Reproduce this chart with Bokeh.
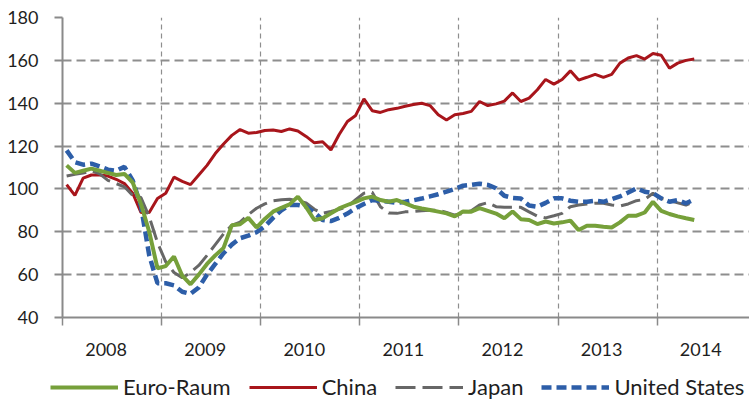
from bokeh.plotting import figure
from bokeh.models import Range1d, FixedTicker, Legend, LegendItem, CustomJSTickFormatter
from bokeh.embed import file_html
from bokeh.resources import INLINE

# Monthly index values, Jan 2008 .. May 2014 (77 months)
months = list(range(77))

euro = [111, 107.5, 108.5, 109.5, 108.5, 107.5, 106.5, 107, 103, 93, 80, 63, 64, 68.5, 59.5, 55.5,
        60, 65, 69, 72.5, 83, 83.5, 86.5, 82, 86,
        89.4, 91.2, 92.8, 96.4, 91.5, 85.5, 86.3, 88.6, 90.9, 92.5, 94, 95.6, 96.4, 94.8, 94, 94.8,
        93.3, 91.7, 90.9, 90.2, 89.4, 88.6, 87.2, 89.5, 89.4,
        91, 89.8, 88.5, 86.3, 89.5, 85.9, 85.5, 83.6, 84.8, 83.9, 84.4, 85.2, 80.8, 82.8, 82.8,
        82.3, 82, 84.4, 87.5, 87.5, 89, 94, 89.8, 88.3, 87.2, 86.3, 85.5]

china = [102, 97, 105, 106.5, 106.5, 106, 104.5, 102.5, 98, 89, 89, 95.5, 98, 105.5, 103.5, 102, 106.5,
         111, 116.5, 121, 125, 127.7, 126, 126.3, 127.3, 127.5, 126.8, 128, 127, 124.5, 121.5, 122,
         118.2, 125.4, 131.5, 134.3,
         142, 136.5, 135.7, 137, 137.6, 138.6, 139.4, 140, 138.9, 134.6, 132.2, 134.6, 135.2, 136.2,
         140.8, 138.9, 139.7, 141, 144.8, 140.8, 142.4, 146.3, 151.1, 148.9, 151.1, 155.1, 150.8,
         152.1, 153.5, 152.1, 153.5, 158.7, 161.1, 162.2, 160.6, 163.2, 162.4, 156.3, 158.7, 160, 160.6]

japan = [106, 106.8, 107.4, 108.5, 107, 104, 102.5, 101, 97, 96, 87, 75, 66, 61, 58.5, 61, 64.3, 69,
         74, 79, 83,
         84.5, 88, 91, 93, 94.5, 95, 95.2, 94.5, 93.5, 90.5, 88.6, 89.5, 90.5, 91.7, 95, 98, 98.5,
         91.7, 88.8, 88.6, 89.3, 89.5, 89.8, 90, 90.1, 89, 87.8, 88.6, 89.8, 92.5, 93.6, 91.7, 91.4,
         91.5, 91.4, 89.3, 87.3, 86.5, 87.5, 88.6, 91.7, 92.5, 93, 93.3, 93.3, 92.5, 92, 93, 94.5,
         95.1, 98, 95.6, 94.5, 93.5, 92.5, 94]

usa = [118, 112.5, 111.3, 111.8, 110.5, 109, 108.5, 110.3, 104, 92, 69, 56, 56, 55, 52, 51, 54, 60,
       65, 70, 74,
       77, 78.2, 79.8, 82.5, 86.5, 90, 92.5, 92.5, 91.8, 89, 85.5, 85, 86.5, 88.5, 91, 93, 94.8,
       94.4, 94, 93.5, 94, 94.7, 95.5, 96.5, 97.5, 98.7, 100, 101.5, 101.9, 102.4, 101.9, 100.3,
       96.8, 95.8, 95.5, 92.3, 91.7, 93.5, 95.6, 95.6, 94.5, 94, 94, 94.5, 94, 95.2, 96.5, 98.3,
       100.3, 98.7, 98, 95.6, 94, 94.8, 93.3, 95.1]

year_ticks = [2008, 2009, 2010, 2011, 2012, 2013, 2014]
y_ticks = [40, 60, 80, 100, 120, 140, 160, 180]
series_names = ["Euro-Raum", "China", "Japan", "United States"]

x = [2008 + (m + 0.5) / 12 for m in months]
label_pos = [yr + 0.44 for yr in year_ticks]

FONT = "Lato"
GRID = "#8e8e8e"
AXIS = "#8a8a8a"
TEXT = "#1e1e1e"

styles = [dict(line_color="#76a03a", line_width=4),
          dict(line_color="#a8151b", line_width=3),
          dict(line_color="#676767", line_width=3, line_dash="20 7"),
          dict(line_color="#2d5ea8", line_width=4.5, line_dash="10 5")]
series = [euro, china, japan, usa]

W = 749
H_MAIN, H_LEG = 372, 31
LEFT, TOP = 62, 17
FRAME_W = W - LEFT

p = figure(width=W, height=H_MAIN,
           x_range=Range1d(2008, 2008 + FRAME_W / 99.1), y_range=Range1d(40, 180),
           output_backend="svg", toolbar_location=None,
           min_border_left=LEFT, min_border_top=TOP, min_border_right=0,
           min_border_bottom=H_MAIN - TOP - 300,
           outline_line_color=None, background_fill_color="white")

# grids
p.ygrid.ticker = FixedTicker(ticks=y_ticks[1:])
p.ygrid.grid_line_color = GRID
p.ygrid.grid_line_width = 2
p.ygrid.grid_line_dash = "9 5"
p.xgrid.ticker = FixedTicker(ticks=year_ticks[1:])
p.xgrid.grid_line_color = GRID
p.xgrid.grid_line_width = 1.2
p.xgrid.grid_line_dash = "5 4"

# y axis
p.yaxis.ticker = FixedTicker(ticks=y_ticks)
p.yaxis.axis_line_color = AXIS
p.yaxis.axis_line_width = 2
p.yaxis.major_tick_out = 8
p.yaxis.major_tick_in = 0
p.yaxis.major_tick_line_color = AXIS
p.yaxis.major_tick_line_width = 2
p.yaxis.minor_tick_line_color = None
p.yaxis.major_label_standoff = 16
p.yaxis.major_label_text_font = FONT
p.yaxis.major_label_text_font_size = "18px"
p.yaxis.major_label_text_color = TEXT

# x axis: labels mid-year, ticks at year boundaries (minor ticks)
p.xaxis.ticker = FixedTicker(ticks=label_pos, minor_ticks=year_ticks)
p.xaxis.formatter = CustomJSTickFormatter(code="return String(Math.floor(tick));")
p.xaxis.axis_line_color = AXIS
p.xaxis.axis_line_width = 2
p.xaxis.major_tick_out = 0
p.xaxis.major_tick_in = 0
p.xaxis.major_tick_line_color = None
p.xaxis.minor_tick_out = 8
p.xaxis.minor_tick_in = 0
p.xaxis.minor_tick_line_color = AXIS
p.xaxis.minor_tick_line_width = 1.5
p.xaxis.major_label_standoff = 17
p.xaxis.major_label_text_font = FONT
p.xaxis.major_label_text_font_size = "18px"
p.xaxis.major_label_text_color = TEXT

# series (China first, Euro on top)
for k in [1, 2, 3, 0]:
    p.line(x, series[k], **styles[k])

# legend strip below the chart (same series, hidden lines, used only for legend glyphs)
q = figure(width=W, height=H_LEG, x_range=Range1d(0, 1), y_range=Range1d(0, 1),
           output_backend="svg", toolbar_location=None, min_border=0,
           x_axis_location=None, y_axis_location=None, outline_line_color=None)
q.xgrid.visible = False
q.ygrid.visible = False
proxies = [q.line(x, s, visible=False, **st) for s, st in zip(series, styles)]

legend = Legend(items=[LegendItem(label=n, renderers=[r]) for n, r in zip(series_names, proxies)],
                orientation="horizontal", location=(48, 1),
                glyph_width=68, glyph_height=20, label_standoff=5, spacing=18,
                padding=2, margin=0, border_line_alpha=0, background_fill_alpha=0,
                label_text_font=FONT, label_text_font_size="22px", label_height=20,
                label_text_color=TEXT)
q.add_layout(legend, "center")

open("out.html", "w").write(file_html([p, q], INLINE))
